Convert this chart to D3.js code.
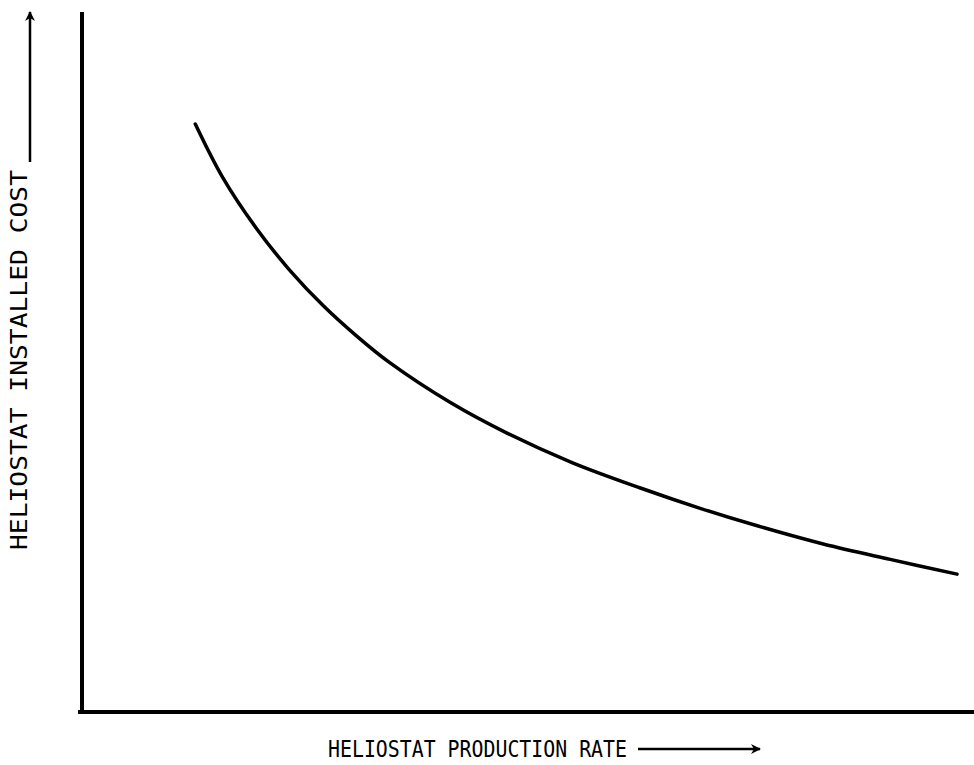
<!DOCTYPE html>
<html>
<head>
<meta charset="utf-8">
<script src="https://cdn.jsdelivr.net/npm/d3@7"></script>
<style>
  body { margin: 0; background: #fff; }
  svg { display: block; }
  .label { font-family: "DejaVu Sans Mono", monospace; font-size: 23px; fill: #000; }
</style>
</head>
<body>
<svg id="chart" width="974" height="765"></svg>
<script>
// production rate (relative units) vs installed cost (relative units)
const rate = [12.7, 15.8, 19.6, 23.3, 27.0, 30.8, 34.5, 41.3, 47.7, 55.0,
              62.6, 69.3, 75.7, 83.1, 90.6, 98.1];
const cost = [84.0, 76.3, 69.0, 63.1, 58.1, 53.7, 49.9, 44.2, 39.8, 35.6,
              32.0, 29.1, 26.6, 24.0, 21.8, 19.7];

const xTitle = "HELIOSTAT PRODUCTION RATE";
const yTitle = "HELIOSTAT INSTALLED COST";

const width = 974;
const height = 765;
const margin = { top: 12, right: 0, bottom: 53, left: 82 };

const svg = d3.select("#chart");

const x = d3.scaleLinear()
  .domain([0, 100])
  .range([margin.left, width - margin.right]);

const y = d3.scaleLinear()
  .domain([0, 100])
  .range([height - margin.bottom, margin.top]);

// arrow head marker for the axis titles
svg.append("defs")
  .append("marker")
  .attr("id", "arrow")
  .attr("viewBox", "0 0 10 10")
  .attr("refX", 9)
  .attr("refY", 5)
  .attr("markerWidth", 5)
  .attr("markerHeight", 4)
  .attr("markerUnits", "strokeWidth")
  .attr("orient", "auto")
  .append("path")
  .attr("d", "M0,0 L10,5 L0,10 L3,5 Z")
  .attr("fill", "#000");

// axes: plain heavy lines, no ticks
svg.append("line")
  .attr("x1", x(0))
  .attr("x2", x(0))
  .attr("y1", y(100))
  .attr("y2", y(0) + 2)
  .attr("stroke", "#000")
  .attr("stroke-width", 4);

svg.append("line")
  .attr("x1", x(0) - 4)
  .attr("x2", x(100))
  .attr("y1", y(0))
  .attr("y2", y(0))
  .attr("stroke", "#000")
  .attr("stroke-width", 4);

const line = d3.line()
  .x((d, i) => x(rate[i]))
  .y(d => y(d))
  .curve(d3.curveCatmullRom.alpha(0.5));

svg.append("path")
  .datum(cost)
  .attr("d", line)
  .attr("fill", "none")
  .attr("stroke", "#000")
  .attr("stroke-width", 3.5)
  .attr("stroke-linecap", "round");

// x title with arrow
svg.append("text")
  .attr("class", "label")
  .attr("x", 328)
  .attr("y", 757)
  .attr("textLength", 299)
  .attr("lengthAdjust", "spacingAndGlyphs")
  .text(xTitle);

svg.append("line")
  .attr("x1", 638)
  .attr("x2", 760)
  .attr("y1", 749)
  .attr("y2", 749)
  .attr("stroke", "#000")
  .attr("stroke-width", 2.5)
  .attr("marker-end", "url(#arrow)");

// y title with arrow
svg.append("text")
  .attr("class", "label")
  .attr("transform", "translate(27,550) rotate(-90)")
  .attr("textLength", 380)
  .attr("lengthAdjust", "spacingAndGlyphs")
  .text(yTitle);

svg.append("line")
  .attr("x1", 30)
  .attr("x2", 30)
  .attr("y1", 162)
  .attr("y2", 12)
  .attr("stroke", "#000")
  .attr("stroke-width", 2.5)
  .attr("marker-end", "url(#arrow)");
</script>
</body>
</html>
